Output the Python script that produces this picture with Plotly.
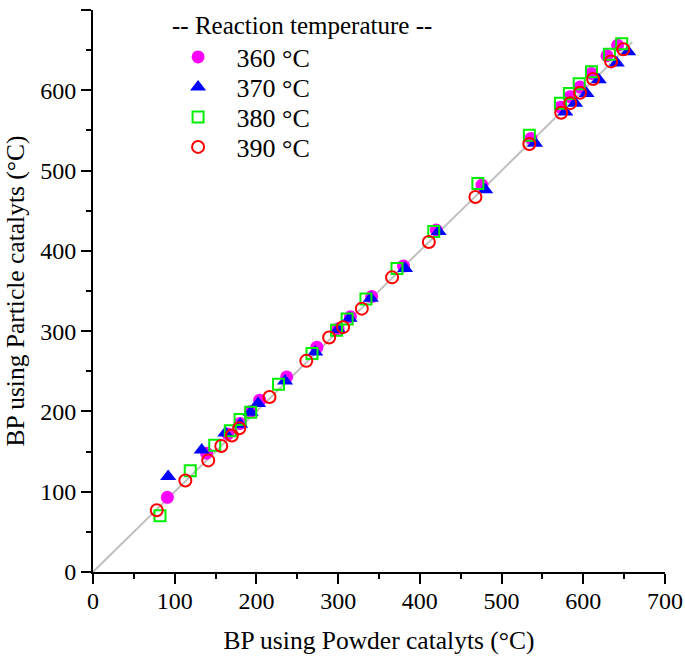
import plotly.graph_objects as go

# Data, boiling points in °C
x360 = [91, 139, 165, 180, 193, 204, 237, 274, 300, 315, 341, 380, 420, 476, 536, 572, 584, 596, 610, 629, 642]
y360 = [93, 148, 172, 185, 200, 214, 243, 280, 303, 318, 343, 381, 426, 482, 540, 579, 592, 604, 621, 643, 656]

x370 = [92, 133, 162, 180, 193, 202, 235, 272, 300, 314, 340, 382, 423, 480, 541, 578, 590, 604, 619, 641, 655]
y370 = [119, 152, 173, 184, 199, 210, 238, 274, 302, 316, 341, 378, 424, 476, 534, 573, 584, 596, 613, 634, 648]

x380 = [82, 119, 149, 168, 180, 193, 227, 268, 298, 311, 334, 372, 417, 471, 534, 572, 583, 595, 610, 632, 647]
y380 = [70, 126, 158, 176, 190, 199, 234, 272, 301, 315, 340, 378, 424, 484, 544, 584, 596, 608, 623, 645, 658]

x390 = [78, 113, 141, 157, 170, 179, 216, 261, 289, 306, 329, 366, 411, 468, 534, 573, 584, 596, 612, 634, 649]
y390 = [77, 114, 139, 157, 170, 179, 218, 263, 292, 305, 328, 367, 411, 467, 533, 572, 584, 597, 614, 636, 651]

diag = [0, 660]
labels = ["360 °C", "370 °C", "380 °C", "390 °C"]
legend_title = "-- Reaction temperature --"

FONT = "Liberation Serif, Times New Roman, serif"

fig = go.Figure()
fig.add_trace(go.Scatter(x=diag, y=diag, mode="lines", line=dict(color="#c0c0c0", width=2),
                         showlegend=False, hoverinfo="skip"))
fig.add_trace(go.Scatter(x=x360, y=y360, mode="markers", name=labels[0], legend="legend",
                         marker=dict(symbol="circle", size=13, color="#ff00ff")))
fig.add_trace(go.Scatter(x=x370, y=y370, mode="markers", name=labels[1], legend="legend2",
                         marker=dict(symbol="triangle-up", size=14, color="#0000ff")))
fig.add_trace(go.Scatter(x=x380, y=y380, mode="markers", name=labels[2], legend="legend3",
                         marker=dict(symbol="square-open", size=11, color="#00ee00",
                                     line=dict(width=2, color="#00ee00"))))
fig.add_trace(go.Scatter(x=x390, y=y390, mode="markers", name=labels[3], legend="legend4",
                         marker=dict(symbol="circle-open", size=12, color="#ff0000",
                                     line=dict(width=2, color="#ff0000"))))

axis_common = dict(
    range=[0, 700], dtick=100, showgrid=False, zeroline=False, automargin=False,
    showline=True, linecolor="black", linewidth=2,
    ticks="outside", ticklen=10, tickwidth=2, tickcolor="black",
    tickfont=dict(family=FONT, size=24, color="black"),
    minor=dict(dtick=50, ticks="outside", ticklen=5, tickwidth=2, tickcolor="black"),
)

def leg(ypos):
    return dict(font=dict(family=FONT, size=26), x=0.1164, y=ypos, xanchor="left", yanchor="middle",
                bgcolor="rgba(0,0,0,0)", itemwidth=67)

fig.update_layout(
    width=685, height=660,
    margin=dict(l=93, r=20, t=10, b=88),
    plot_bgcolor="white", paper_bgcolor="white",
    font=dict(family=FONT, color="black"),
    xaxis=dict(title=dict(text="BP using Powder catalyts (°C)", font=dict(family=FONT, size=25.5),
                          standoff=18), **axis_common),
    yaxis=dict(title=dict(text="BP using Particle catalyts (°C)", font=dict(family=FONT, size=25.5),
                          standoff=8), **axis_common),
    legend=leg(0.9164),
    legend2=leg(0.863),
    legend3=leg(0.8096),
    legend4=leg(0.7562),
    annotations=[dict(text=legend_title, xref="paper", yref="paper", x=0.1346, y=0.973,
                      xanchor="left", yanchor="middle", showarrow=False,
                      font=dict(family=FONT, size=25, color="black"))],
)

try:
    fig.update_xaxes(ticklabelstandoff=-4)
except ValueError:
    fig.update_xaxes(ticklabelstandoff=0)

fig.write_html("out.html", config={"displayModeBar": False},
               post_script="document.body.style.margin='0';")
